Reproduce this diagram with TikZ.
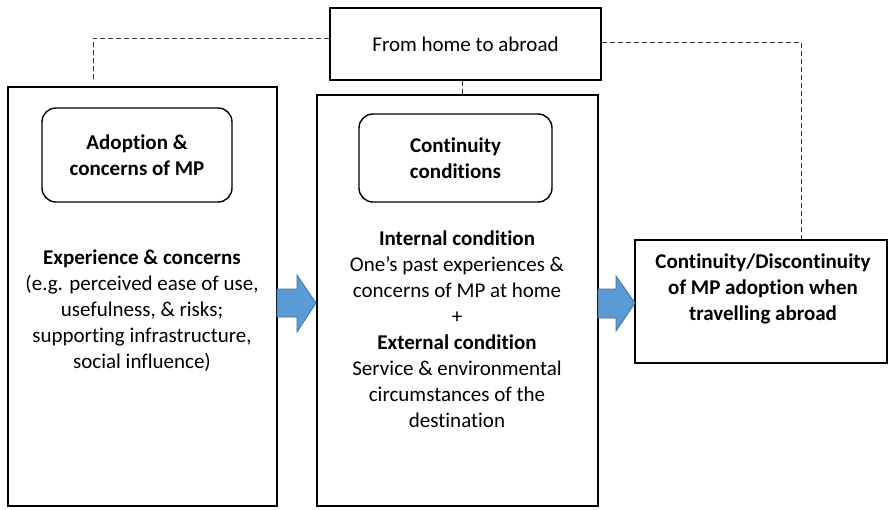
\documentclass[tikz,border=0pt]{standalone}
\usepackage{fontspec}
\setmainfont{Carlito}[Ligatures=NoCommon]
\begin{document}
\begin{tikzpicture}[x=1pt,y=-1pt,
  box/.style={draw, line width=1.4pt, inner sep=0pt, align=center, font=\fontsize{21}{26}\selectfont},
  rbox/.style={draw, line width=1.4pt, rounded corners=14pt, inner sep=0pt, align=center, font=\fontsize{21}{26}\selectfont\bfseries},
  txt/.style={inner sep=0pt, align=center, font=\fontsize{21}{26}\selectfont},
  dashline/.style={draw=black!80, line width=0.9pt, dash pattern=on 5pt off 3pt},
  blockarrow/.style={fill={rgb,255:red,91;green,155;blue,213}, draw={rgb,255:red,65;green,113;blue,156}, line width=0.8pt, line join=miter}
]
\useasboundingbox (0,0) rectangle (888,509);

\node[box, minimum width=271pt, minimum height=72pt] (top) at (465.5,44) {From home to abroad};
\node[box, minimum width=269pt, minimum height=419pt] (left) at (142.5,296.5) {};
\node[box, minimum width=281pt, minimum height=411pt] (mid) at (457.5,300.5) {};
\node[box, minimum width=252pt, minimum height=123pt] (right) at (761,301.5) {};

\node[rbox, minimum width=190pt, minimum height=94pt] (lround) at (137,155) {Adoption \&\\concerns of MP};
\node[rbox, minimum width=193pt, minimum height=88pt] (mround) at (455.5,158) {Continuity\\conditions};

\node[txt] (ltxt) at (142,311) {\textbf{Experience \& concerns}\\(e.g. perceived ease of use,\\usefulness, \& risks;\\supporting infrastructure,\\social influence)};
\node[txt] (mtxt) at (457,329) {\textbf{Internal condition}\\One’s past experiences \&\\concerns of MP at home\\+\\\textbf{External condition}\\Service \& environmental\\circumstances of the\\destination};
\node[txt, font=\fontsize{21}{26}\selectfont\bfseries] (rtxt) at (763,289) {Continuity/Discontinuity\\of MP adoption when\\travelling abroad};

\coordinate (lend) at (93,81);
\draw[dashline] ([yshift=6pt]top.west) -| (lend);
\draw[dashline] ([yshift=2pt]top.east) -| ([xshift=40pt]right.north);
\draw[dashline] ([xshift=-3.5pt]top.south) -- ([xshift=-3.5pt]top.south |- mid.north);

\draw[blockarrow] (277,289) -- (297,289) -- (297,275) -- (316,303) -- (297,332) -- (297,317) -- (277,317) -- cycle;
\draw[blockarrow] (598,289) -- (616,289) -- (616,276) -- (635,303) -- (616,331) -- (616,318) -- (598,318) -- cycle;
\end{tikzpicture}
\end{document}
